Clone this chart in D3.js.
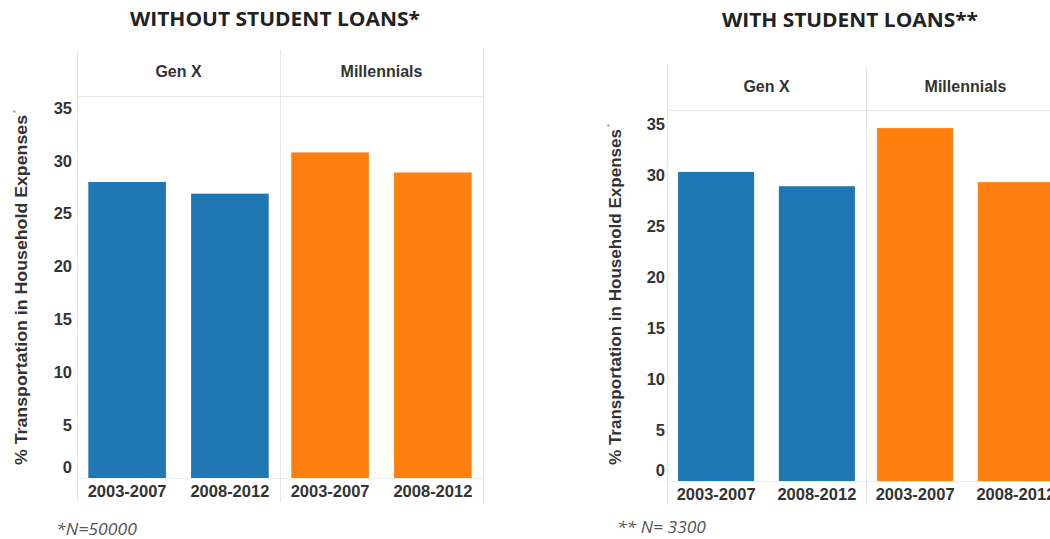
<!DOCTYPE html>
<html><head><meta charset="utf-8">
<script src="https://cdn.jsdelivr.net/npm/d3@7"></script>
<style>
body{margin:0;background:#fff;}
svg{display:block;font-family:"Liberation Sans",Arial,sans-serif;}
</style></head><body>
<svg id="c" width="1050" height="539"></svg>
<script>
const generations = ["Gen X", "Millennials"];
const periods = ["2003-2007", "2008-2012"];
const withoutLoans = [[28.0, 26.9], [30.8, 28.9]];
const withLoans = [[30.3, 28.9], [34.6, 29.3]];
const yTicks = [0, 5, 10, 15, 20, 25, 30, 35];
const colors = ["#1f77b4", "#ff7f0e"];
const titles = ["WITHOUT STUDENT LOANS*", "WITH STUDENT LOANS**"];
const notes = ["*N=50000", "** N= 3300"];
const yLabel = "% Transportation  in Household Expenses";

const svg = d3.select("#c");

function panel(cfg, data, title, note) {
  const g = svg.append("g");
  const y = d3.scaleLinear().domain([0, 35]).range([cfg.base, cfg.top35]);
  const fx = d3.scaleBand().domain(generations).range([cfg.x0, cfg.x0 + cfg.facetW * 2]);
  const bx = d3.scaleBand().domain(periods).range([0, cfg.facetW]).paddingInner(0.245).paddingOuter(0.11);

  // title
  g.append("text").attr("x", cfg.titleX).attr("y", cfg.titleY).attr("text-anchor", "middle")
    .attr("font-family", "'Open Sans',sans-serif").attr("font-weight", "bold").attr("font-size", 19)
    .attr("textLength", cfg.titleLen).attr("lengthAdjust", "spacingAndGlyphs")
    .attr("fill", "#222").text(title);

  // header separator line
  g.append("line").attr("x1", cfg.x0).attr("x2", cfg.x0 + cfg.facetW * 2)
    .attr("y1", cfg.headBottom + 0.5).attr("y2", cfg.headBottom + 0.5).attr("stroke", "#e6e6e6");
  // baseline
  g.append("line").attr("x1", cfg.x0).attr("x2", cfg.x0 + cfg.facetW * 2)
    .attr("y1", cfg.base + 0.5).attr("y2", cfg.base + 0.5).attr("stroke", "#ececec");
  // facet separators
  [0, 1, 2].forEach(i => {
    const xx = cfg.x0 + cfg.facetW * i + 0.5;
    g.append("line").attr("x1", xx).attr("x2", xx).attr("y1", cfg.headTop).attr("y2", cfg.base + 24)
      .attr("stroke", "#e6e6e6");
  });

  generations.forEach((gen, gi) => {
    const fg = g.append("g").attr("transform", `translate(${fx(gen)},0)`);
    fg.append("text").attr("x", cfg.facetW / 2).attr("y", cfg.headY)
      .attr("text-anchor", "middle").attr("font-weight", "bold").attr("font-size", 16).attr("fill", "#333").text(gen);
    fg.selectAll("rect").data(periods).join("rect")
      .attr("x", d => bx(d)).attr("width", bx.bandwidth())
      .attr("y", (d, i) => y(data[gi][i])).attr("height", (d, i) => y(0) - y(data[gi][i]))
      .attr("fill", colors[gi]);
    fg.selectAll("text.xl").data(periods).join("text").attr("class", "xl")
      .attr("x", d => bx(d) + bx.bandwidth() / 2).attr("y", cfg.base + 19)
      .attr("text-anchor", "middle").attr("font-weight", "bold").attr("font-size", 16.5).attr("fill", "#333").text(d => d);
  });

  // y axis labels
  const ax = g.append("g").attr("transform", `translate(${cfg.x0 - cfg.tickOff},0)`)
    .call(d3.axisLeft(y).tickValues(yTicks).tickSize(0).tickPadding(0));
  ax.select(".domain").remove();
  ax.selectAll("text").attr("font-family", "'Liberation Sans',Arial,sans-serif").attr("font-weight", "bold")
    .attr("font-size", 16.5).attr("fill", "#333")
    .attr("dy", d => d === 0 ? "-0.35em" : "0.32em");

  // y label
  const yl = g.append("text").attr("transform", `translate(${cfg.ylabX},${cfg.ylabY}) rotate(-90)`)
    .attr("text-anchor", "start").attr("font-weight", "bold").attr("font-size", 16).attr("fill", "#333");
  yl.append("tspan").attr("textLength", cfg.ylabLen).attr("lengthAdjust", "spacingAndGlyphs").text(yLabel);
  yl.append("tspan").attr("font-size", 8).attr("dy", -9).attr("dx", 2).attr("fill", "#999").text("*");

  // footnote
  g.append("text").attr("x", cfg.noteX).attr("y", cfg.noteY).attr("font-style", "italic")
    .attr("font-family", "'Open Sans',sans-serif").attr("font-size", 17).attr("fill", "#555")
    .attr("textLength", cfg.noteLen).attr("lengthAdjust", "spacingAndGlyphs").text(note);
}

panel({x0: 77, facetW: 203, base: 478, top35: 108, headTop: 50, headBottom: 96, headY: 77, titleX: 275, titleY: 26, titleLen: 290,
       tickOff: 5, ylabX: 27, ylabY: 465, ylabLen: 350, noteX: 56, noteY: 535, noteLen: 81}, withoutLoans, titles[0], notes[0]);
panel({x0: 667, facetW: 199, base: 481, top35: 124, headTop: 66, headBottom: 110, headY: 92, titleX: 850, titleY: 27, titleLen: 256,
       tickOff: 2, ylabX: 621, ylabY: 465, ylabLen: 336, noteX: 617, noteY: 533, noteLen: 89}, withLoans, titles[1], notes[1]);
</script>
</body></html>
